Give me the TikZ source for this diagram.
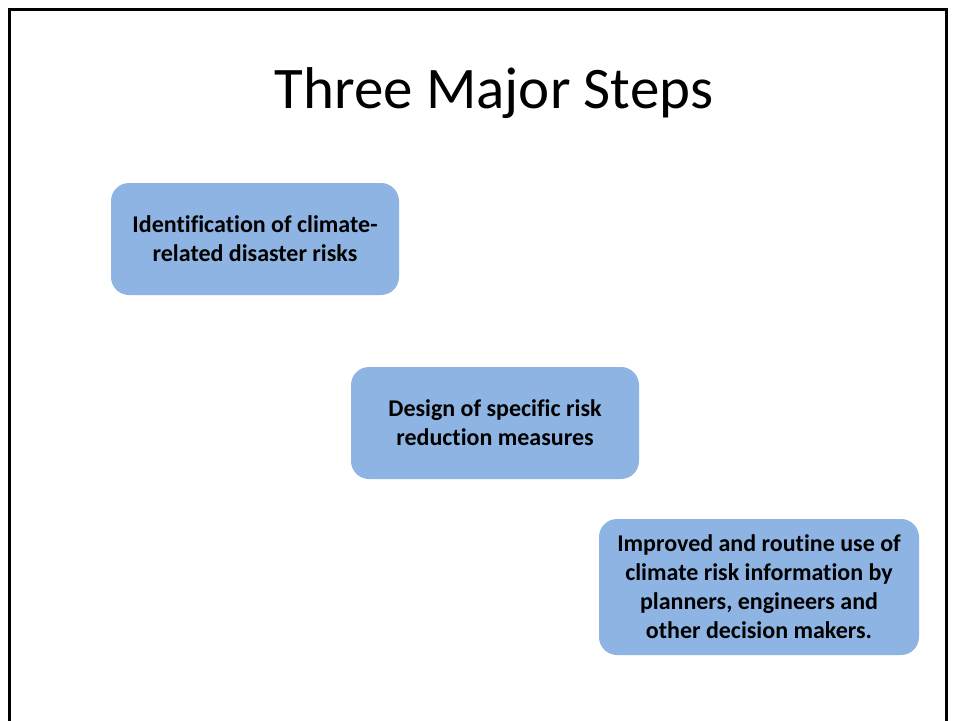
\documentclass[tikz,border=0pt]{standalone}
\usepackage{fontspec}
\setmainfont[Ligatures=CommonOff]{Carlito}
\usetikzlibrary{positioning}
\definecolor{stepblue}{RGB}{142,180,227}
\tikzset{
  stepnode/.style={fill=stepblue,rounded corners=13.5pt,align=center,
    font=\fontsize{18}{21.8}\selectfont\bfseries,inner sep=0pt},
}

\begin{document}
\begin{tikzpicture}[x=0.75pt,y=-0.75pt]
  \useasboundingbox (0,0) rectangle (954,721);
  \clip (0,0) rectangle (954,721);
  % slide frame, bottom edge runs off the page
  \draw[line width=2.25pt] (9,760) -- (9,9) -- (946,9) -- (946,760);

  \node[font=\fontsize{44.2}{53}\selectfont] (title) at (494,93) {Three Major Steps};

  \node[stepnode,minimum width=216pt,minimum height=84pt] (ident) at (255,239)
    {Identification of climate-\\related disaster risks};
  \node[stepnode,minimum width=216pt,minimum height=84pt] (design) at (495,423)
    {Design of specific risk\\reduction measures};
  \node[stepnode,minimum width=240pt,minimum height=102pt] (improve) at (759,587)
    {Improved and routine use of\\climate risk information by\\planners, engineers and\\other decision makers.};
\end{tikzpicture}
\end{document}
